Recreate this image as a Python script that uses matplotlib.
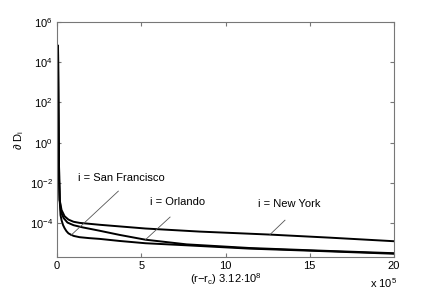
import matplotlib
matplotlib.use("Agg")
import matplotlib.pyplot as plt
from matplotlib.ticker import FixedLocator, NullLocator

plt.rcParams['font.family'] = ['Liberation Sans', 'DejaVu Sans']
plt.rcParams['mathtext.fontset'] = 'custom'
plt.rcParams['mathtext.rm'] = 'Liberation Sans'
plt.rcParams['mathtext.it'] = 'Liberation Sans:italic'
plt.rcParams['mathtext.sf'] = 'Liberation Sans'

# x in units of 1e5
x_sf = [0.06, 0.08, 0.10, 0.13, 0.16, 0.21, 0.27, 0.36, 0.45, 0.56, 0.68, 0.85, 1.0, 1.34, 1.9, 2.52, 3.71, 5.25, 7.69, 11.42, 15.58, 20.0]
y_sf = [6.5e4, 1.3e2, 1.35, 1.4e-2, 1.4e-3, 2.5e-4, 1.4e-4, 8.0e-5, 5.6e-5, 4.0e-5, 3.1e-5, 2.6e-5, 2.3e-5, 2.0e-5, 1.8e-5, 1.65e-5, 1.3e-5, 1.0e-5, 7.9e-6, 5.4e-6, 4.1e-6, 3.0e-6]

x_or = [0.06, 0.08, 0.10, 0.13, 0.16, 0.24, 0.39, 0.62, 0.98, 1.5, 2.52, 3.71, 5.25, 7.69, 11.42, 15.58, 20.0]
y_or = [6.5e4, 1.3e2, 1.35, 1.4e-2, 1.4e-3, 3.5e-4, 1.8e-4, 1.07e-4, 7.9e-5, 6.2e-5, 4.2e-5, 2.6e-5, 1.5e-5, 8.8e-6, 5.8e-6, 4.3e-6, 3.2e-6]

x_ny = [0.06, 0.08, 0.10, 0.13, 0.16, 0.27, 0.45, 0.68, 0.98, 1.34, 2.52, 5.25, 8.46, 12.61, 16.17, 20.0]
y_ny = [6.5e4, 1.3e2, 1.35, 1.4e-2, 1.4e-3, 4.5e-4, 2.2e-4, 1.5e-4, 1.17e-4, 1.03e-4, 8.3e-5, 5.4e-5, 3.8e-5, 2.7e-5, 1.9e-5, 1.26e-5]

x_ticks = [0, 5, 10, 15, 20]
y_ticks = [1e-4, 1e-2, 1e0, 1e2, 1e4, 1e6]
y_ticklabels = [r'$10^{-4}$', r'$10^{-2}$', r'$10^{0}$', r'$10^{2}$', r'$10^{4}$', r'$10^{6}$']

fig = plt.figure(figsize=(4.36, 2.90), dpi=100)
ax = fig.add_axes([57/436, 1 - 257.3/290, (394 - 57)/436, (257.3 - 22)/290])

for xs, ys in [(x_sf, y_sf), (x_or, y_or), (x_ny, y_ny)]:
    ax.plot(xs, ys, color='black', lw=1.4, solid_joinstyle='round')

ax.set_yscale('log')
ax.set_xlim(0, 20)
ax.set_ylim(2e-6, 1e6)

ax.xaxis.set_major_locator(FixedLocator(x_ticks))
ax.set_xticklabels([str(t) for t in x_ticks])
ax.yaxis.set_major_locator(FixedLocator(y_ticks))
ax.yaxis.set_minor_locator(NullLocator())
ax.set_yticklabels(y_ticklabels)

axcol = '#777777'
for s in ax.spines.values():
    s.set_color(axcol)
    s.set_linewidth(0.8)
ax.tick_params(which='both', direction='in', top=True, right=True, length=3,
               color=axcol, labelsize=8, labelcolor='black', pad=3)

ax.set_xlabel(r'(r$-$r$_{\rm c}$) 3.12$\cdot$10$^{8}$', fontsize=8, labelpad=0)
ax.set_ylabel(r'$\partial$ D$_{\rm i}$', fontsize=8, labelpad=3)
ax.text(1.01, -0.108, r'x 10$^{5}$', transform=ax.transAxes, ha='right', va='center', fontsize=8)

# annotations
lc = '#555555'
ax.text(1.25, 1.74e-2, 'i = San Francisco', fontsize=8, ha='left', va='center')
ax.plot([3.64, 0.81], [3.9e-3, 2.4e-5], color=lc, lw=0.6)
ax.text(5.52, 1.1e-3, 'i = Orlando', fontsize=8, ha='left', va='center')
ax.plot([6.71, 5.25], [2.0e-4, 1.5e-5], color=lc, lw=0.6)
ax.text(11.93, 8.9e-4, 'i = New York', fontsize=8, ha='left', va='center')
ax.plot([13.53, 12.64], [1.4e-4, 2.7e-5], color=lc, lw=0.6)

fig.savefig('out.png', dpi=100)
